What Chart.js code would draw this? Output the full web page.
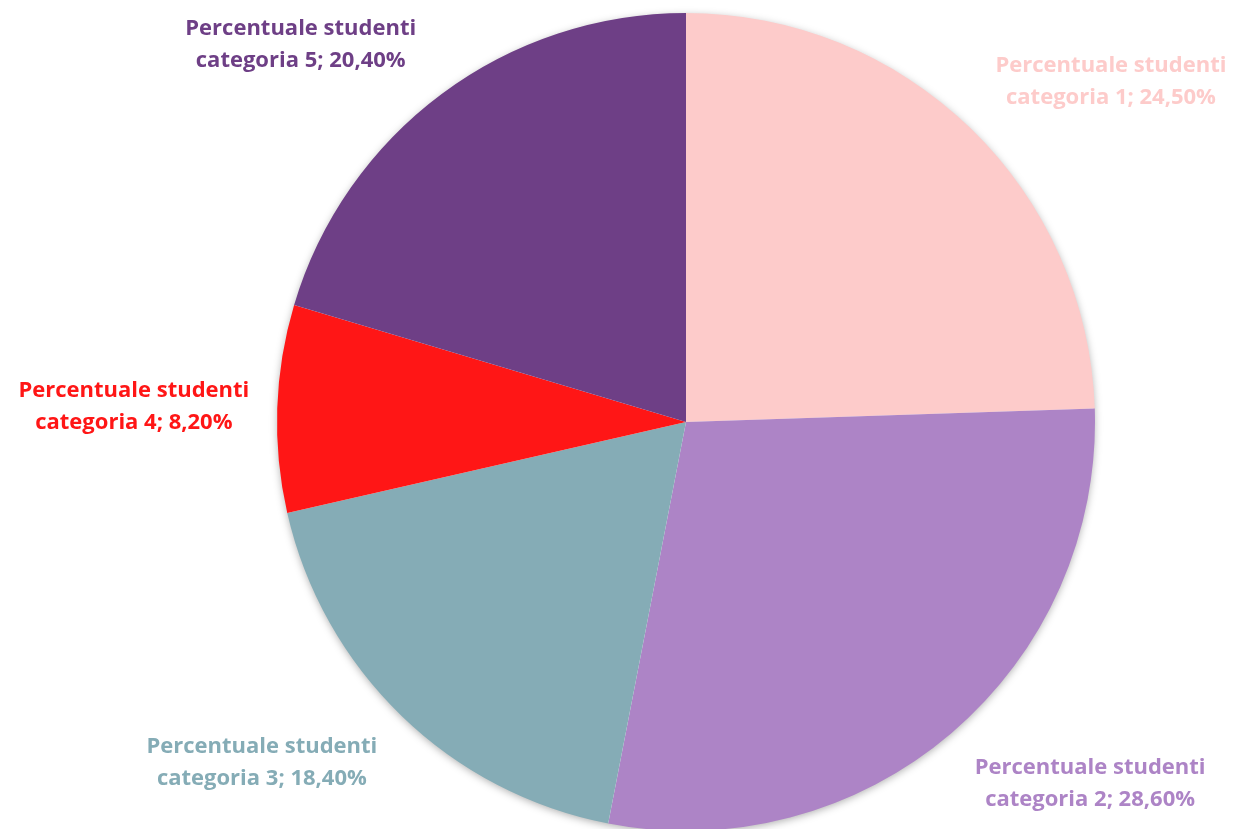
<!DOCTYPE html>
<html>
<head>
<meta charset="utf-8">
<script src="https://cdn.jsdelivr.net/npm/chart.js@4.4.1/dist/chart.umd.min.js"></script>
<style>
  html, body { margin: 0; padding: 0; background: #fff; overflow: hidden; }
  #wrap { width: 1233px; height: 832px; position: relative; }
</style>
</head>
<body>
<div id="wrap"><canvas id="torta"></canvas></div>
<script>
// dati
const categorie = ['categoria 1', 'categoria 2', 'categoria 3', 'categoria 4', 'categoria 5'];
const percentuali = [24.5, 28.6, 18.4, 8.2, 20.4];
const serieNome = 'Percentuale studenti';
const colori = ['#FDCBCA', '#AD84C6', '#85ACB6', '#FF1616', '#6E3F86'];

// posizione delle etichette, in frazioni del raggio rispetto al centro
const posEtichette = [[1.039, -0.831], [0.988, 0.885], [-1.037, 0.834], [-1.350, -0.037], [-0.942, -0.922]];

function formatta(v) {
  return v.toFixed(2).replace('.', ',') + '%';
}

// ombra leggera sotto la torta
const ombra = {
  id: 'ombra',
  beforeDatasetsDraw(chart) {
    const arc = chart.getDatasetMeta(0).data[0];
    if (!arc) return;
    const ctx = chart.ctx;
    ctx.save();
    ctx.shadowColor = 'rgba(0,0,0,0.35)';
    ctx.shadowBlur = 9;
    ctx.shadowOffsetY = 2;
    ctx.fillStyle = '#ffffff';
    ctx.beginPath();
    ctx.arc(arc.x, arc.y, arc.outerRadius - 1, 0, Math.PI * 2);
    ctx.fill();
    ctx.restore();
  }
};

// etichette dati fuori dalla torta
const etichette = {
  id: 'etichette',
  afterDatasetsDraw(chart) {
    const ctx = chart.ctx;
    const meta = chart.getDatasetMeta(0);
    ctx.save();
    ctx.font = 'bold 22px "Open Sans", sans-serif';
    ctx.textAlign = 'center';
    ctx.textBaseline = 'middle';
    meta.data.forEach((arc, i) => {
      const r = arc.outerRadius;
      const x = arc.x + posEtichette[i][0] * r;
      const y = arc.y + posEtichette[i][1] * r;
      ctx.fillStyle = colori[i];
      ctx.fillText(serieNome, x, y - 16);
      ctx.fillText(categorie[i] + '; ' + formatta(percentuali[i]), x, y + 16);
    });
    ctx.restore();
  }
};

new Chart(document.getElementById('torta'), {
  type: 'pie',
  data: {
    labels: categorie,
    datasets: [{
      label: serieNome,
      data: percentuali,
      backgroundColor: colori,
      borderWidth: 0
    }]
  },
  options: {
    responsive: true,
    maintainAspectRatio: false,
    animation: false,
    layout: { padding: { top: 13, bottom: 1, left: 139, right: 0 } },
    plugins: {
      legend: { display: false },
      tooltip: { enabled: false }
    }
  },
  plugins: [ombra, etichette]
});
</script>
</body>
</html>
